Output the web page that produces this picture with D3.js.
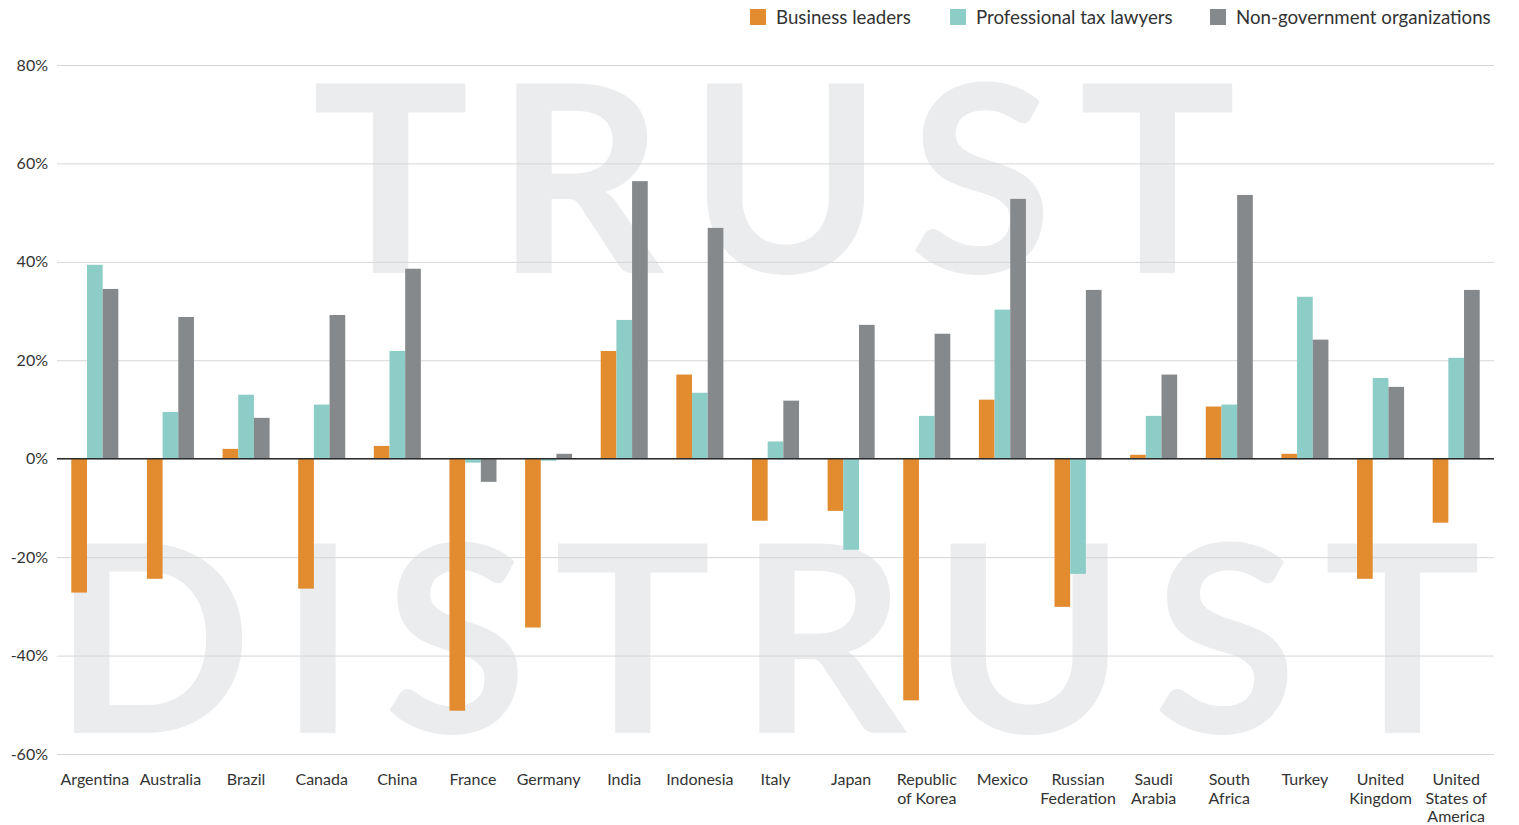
<!DOCTYPE html>
<html>
<head>
<meta charset="utf-8">
<script src="https://cdn.jsdelivr.net/npm/d3@7"></script>
<style>
  body { margin: 0; background: #fff; }
  svg text { font-family: Lato, "Open Sans", sans-serif; fill: #333; }
</style>
</head>
<body>
<div id="chart"></div>
<script>
'use strict';

const countries = ['Argentina', 'Australia', 'Brazil', 'Canada', 'China', 'France', 'Germany',
  'India', 'Indonesia', 'Italy', 'Japan', 'Republic of Korea', 'Mexico', 'Russian Federation',
  'Saudi Arabia', 'South Africa', 'Turkey', 'United Kingdom', 'United States of America'];

// labels split the way the chart wraps them
const countryLines = [['Argentina'], ['Australia'], ['Brazil'], ['Canada'], ['China'], ['France'],
  ['Germany'], ['India'], ['Indonesia'], ['Italy'], ['Japan'], ['Republic', 'of Korea'], ['Mexico'],
  ['Russian', 'Federation'], ['Saudi', 'Arabia'], ['South', 'Africa'], ['Turkey'],
  ['United', 'Kingdom'], ['United', 'States of', 'America']];

const seriesNames = ['Business leaders', 'Professional tax lawyers', 'Non-government organizations'];

const businessLeaders = [-27.2, -24.4, 2.0, -26.4, 2.6, -51.2, -34.3, 21.9, 17.1, -12.6, -10.6,
  -49.1, 12.0, -30.1, 0.8, 10.6, 1.0, -24.4, -13.0];
const taxLawyers = [39.4, 9.5, 13.0, 11.0, 21.9, -0.8, -0.4, 28.2, 13.4, 3.5, -18.5,
  8.7, 30.3, -23.4, 8.7, 11.0, 32.9, 16.4, 20.5];
const ngos = [34.5, 28.8, 8.3, 29.2, 38.6, -4.7, 1.0, 56.4, 46.9, 11.8, 27.2,
  25.4, 52.8, 34.3, 17.1, 53.6, 24.2, 14.6, 34.3];

const yTicks = [-60, -40, -20, 0, 20, 40, 60, 80];
const colors = ['#e38b2f', '#8ccdc8', '#86898b'];

const width = 1519, height = 825;
const plotLeft = 57, plotRight = 1494, plotTop = 65, plotBottom = 754;

const svg = d3.select('#chart').append('svg')
  .attr('width', width)
  .attr('height', height);

const x0 = d3.scaleBand()
  .domain(countries)
  .range([plotLeft, plotRight])
  .paddingInner(0.378)
  .paddingOuter(0.189);

const x1 = d3.scaleBand()
  .domain(seriesNames)
  .range([0, x0.bandwidth()]);

const y = d3.scaleLinear()
  .domain([-60, 80])
  .range([plotBottom, plotTop]);

// background watermark words
const mark = svg.append('g').attr('class', 'watermark');
mark.append('text')
  .attr('x', 312).attr('y', 273)
  .attr('textLength', 924).attr('lengthAdjust', 'spacing')
  .style('font-size', '262px').style('font-weight', 700).style('fill', '#ebecee')
  .text('TRUST');
mark.append('text')
  .attr('x', 53).attr('y', 733)
  .attr('textLength', 1428).attr('lengthAdjust', 'spacing')
  .style('font-size', '262px').style('font-weight', 700).style('fill', '#ebecee')
  .text('DISTRUST');

// gridlines
const yAxis = d3.axisLeft(y)
  .tickValues(yTicks)
  .tickSize(-(plotRight - plotLeft))
  .tickPadding(9)
  .tickFormat(d => d + '%');

const gy = svg.append('g')
  .attr('transform', 'translate(' + plotLeft + ',0)')
  .call(yAxis);
gy.attr('font-family', null).attr('font-size', null);
gy.select('.domain').remove();
gy.selectAll('.tick line').attr('stroke', '#d6d6d6').attr('stroke-width', 1);
gy.selectAll('.tick text').style('font-size', '16px').style('fill', '#333');

// bars
const rows = countries.map((c, i) => ({
  country: c,
  values: [businessLeaders[i], taxLawyers[i], ngos[i]]
}));

svg.append('g').selectAll('g')
  .data(rows)
  .enter()
  .append('g')
  .attr('transform', d => 'translate(' + x0(d.country) + ',0)')
  .selectAll('rect')
  .data(d => d.values.map((v, k) => ({ series: seriesNames[k], value: v, k: k })))
  .enter()
  .append('rect')
  .attr('x', d => x1(d.series))
  .attr('y', d => y(Math.max(0, d.value)))
  .attr('width', x1.bandwidth())
  .attr('height', d => Math.abs(y(d.value) - y(0)))
  .attr('fill', d => colors[d.k]);

// zero line
svg.append('line')
  .attr('x1', plotLeft).attr('x2', plotRight)
  .attr('y1', y(0)).attr('y2', y(0))
  .attr('stroke', '#2b2b2b')
  .attr('stroke-width', 1.6);

// category labels
const labels = svg.append('g').selectAll('text')
  .data(countries)
  .enter()
  .append('text')
  .attr('x', d => x0(d) + x0.bandwidth() / 2)
  .attr('y', 785)
  .attr('text-anchor', 'middle')
  .style('font-size', '16px');
labels.each(function(d, i) {
  d3.select(this).selectAll('tspan')
    .data(countryLines[i])
    .enter()
    .append('tspan')
    .attr('x', x0(d) + x0.bandwidth() / 2)
    .attr('dy', (t, j) => j === 0 ? 0 : 18.5)
    .text(t => t);
});

// legend
const legendX = [750, 950, 1210];
const legend = svg.append('g').selectAll('g')
  .data(seriesNames)
  .enter()
  .append('g')
  .attr('transform', (d, i) => 'translate(' + legendX[i] + ',9)');
legend.append('rect')
  .attr('width', 16).attr('height', 16)
  .attr('fill', (d, i) => colors[i]);
legend.append('text')
  .attr('x', 26).attr('y', 14.5)
  .style('font-size', '18.7px')
  .text(d => d);
</script>
</body>
</html>
